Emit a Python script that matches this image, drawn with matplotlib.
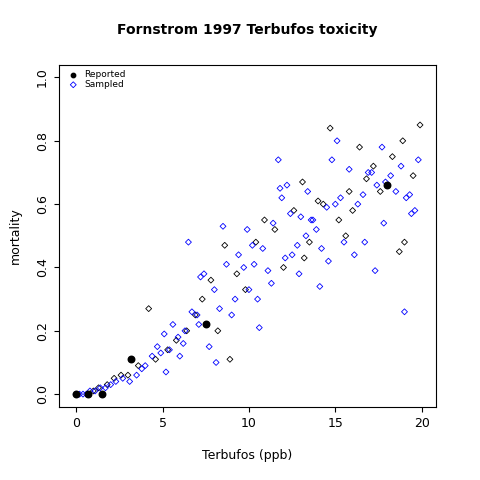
import matplotlib
matplotlib.use("Agg")
import matplotlib.pyplot as plt

# reported points
rep_x = [0.0, 0.7, 1.5, 3.2, 7.5, 18.0]
rep_y = [0.0, 0.0, 0.0, 0.11, 0.22, 0.66]

# sampled points, first block black, second blue
blk_x = [1.0, 1.3, 1.8, 2.2, 2.6, 3.0, 3.6, 4.2, 4.6, 5.3, 5.8, 6.4, 6.9, 7.3, 7.8, 8.2, 8.6,
         8.9, 9.3, 9.8, 10.4, 10.9, 11.5, 12.0, 12.6, 13.1, 13.5, 14.0, 14.3, 14.7, 15.2,
         15.6, 16.0, 16.4, 16.8, 17.2, 17.6, 18.3, 18.7, 19.0, 19.5, 19.9, 13.2, 15.8, 18.9]
blk_y = [0.01, 0.02, 0.03, 0.05, 0.06, 0.06, 0.09, 0.27, 0.11, 0.14, 0.17, 0.20, 0.25, 0.30,
         0.36, 0.20, 0.47, 0.11, 0.38, 0.33, 0.48, 0.55, 0.52, 0.40, 0.58, 0.67, 0.48, 0.61,
         0.60, 0.84, 0.55, 0.50, 0.58, 0.78, 0.68, 0.72, 0.64, 0.75, 0.45, 0.48, 0.69, 0.85,
         0.43, 0.64, 0.80]
blu_x = [0.0, 0.2, 0.4, 0.6, 0.8, 1.1, 1.4, 1.7, 2.0, 2.3, 2.7, 3.1, 3.5, 3.8, 4.0, 4.4,
         4.7, 4.9, 5.1, 5.4, 5.6, 5.9, 6.2, 6.5, 6.7, 7.0, 7.2, 7.4, 7.7, 8.0, 8.3, 8.5, 8.7,
         9.0, 9.4, 9.7, 10.0, 10.2, 10.5, 10.8, 11.1, 11.4, 11.7, 11.9, 12.2, 12.5, 12.8,
         13.0, 13.3, 13.6, 13.9, 14.2, 14.5, 14.8, 15.0, 15.3, 15.5, 15.8, 16.1, 16.3, 16.6,
         16.9, 17.1, 17.4, 17.7, 17.9, 18.2, 18.5, 18.8, 19.1, 19.3, 19.6, 19.8, 5.2, 6.0,
         6.3, 7.1, 8.1, 9.2, 10.6, 11.3, 12.1, 12.4, 13.7, 14.6, 15.1, 16.7, 17.3, 19.4, 11.8,
         9.9, 12.9, 14.1, 17.8, 10.3, 13.4, 19.0]
blu_y = [0.0, 0.0, 0.0, 0.0, 0.01, 0.01, 0.02, 0.02, 0.03, 0.04, 0.05, 0.04, 0.06, 0.08,
         0.09, 0.12, 0.15, 0.13, 0.19, 0.14, 0.22, 0.18, 0.16, 0.48, 0.26, 0.25, 0.37, 0.38,
         0.15, 0.33, 0.27, 0.53, 0.41, 0.25, 0.44, 0.40, 0.33, 0.47, 0.30, 0.46, 0.39, 0.54,
         0.74, 0.62, 0.66, 0.44, 0.47, 0.56, 0.50, 0.55, 0.52, 0.46, 0.59, 0.74, 0.60, 0.62,
         0.48, 0.71, 0.44, 0.60, 0.63, 0.70, 0.70, 0.66, 0.78, 0.67, 0.69, 0.64, 0.72, 0.62,
         0.63, 0.58, 0.74, 0.07, 0.12, 0.20, 0.22, 0.10, 0.30, 0.21, 0.35, 0.43, 0.57, 0.55,
         0.42, 0.80, 0.48, 0.39, 0.57, 0.65, 0.52, 0.38, 0.34, 0.54, 0.41, 0.64, 0.26]

nb = min(len(blk_x), len(blk_y))
nu = min(len(blu_x), len(blu_y))

fig = plt.figure(figsize=(4.8, 4.8), dpi=100)
ax = fig.add_axes([0.1225, 0.1525, 0.785, 0.7125])
ax.scatter(blk_x[:nb], blk_y[:nb], marker='D', s=9, facecolors='none', edgecolors='black', linewidths=0.6)
ax.scatter(blu_x[:nu], blu_y[:nu], marker='D', s=9, facecolors='none', edgecolors='blue', linewidths=0.6)
ax.scatter(rep_x, rep_y, marker='o', s=22, color='black', zorder=3)
ax.set_xlim(-1.0, 20.8)
ax.set_ylim(-0.04, 1.04)
ax.set_xticks([0, 5, 10, 15, 20])
ax.set_yticks([0, 0.2, 0.4, 0.6, 0.8, 1.0])
ax.set_yticklabels(['0.0', '0.2', '0.4', '0.6', '0.8', '1.0'], rotation=90, va='center')
ax.tick_params(labelsize=9)
ax.set_xlabel('Terbufos (ppb)', fontsize=9, labelpad=14)
ax.set_ylabel('mortality', fontsize=9, labelpad=10)
ax.set_title('Fornstrom 1997 Terbufos toxicity', fontsize=10, fontweight='bold', pad=22)

h1 = ax.scatter([], [], marker='o', s=10, color='black')
h2 = ax.scatter([], [], marker='D', s=9, facecolors='none', edgecolors='blue', linewidths=0.6)
ax.legend([h1, h2], ['Reported', 'Sampled'], loc='upper left', fontsize=6.5, frameon=False,
          handletextpad=0.2, borderaxespad=0.2, labelspacing=0.1)

fig.savefig('out.png')
